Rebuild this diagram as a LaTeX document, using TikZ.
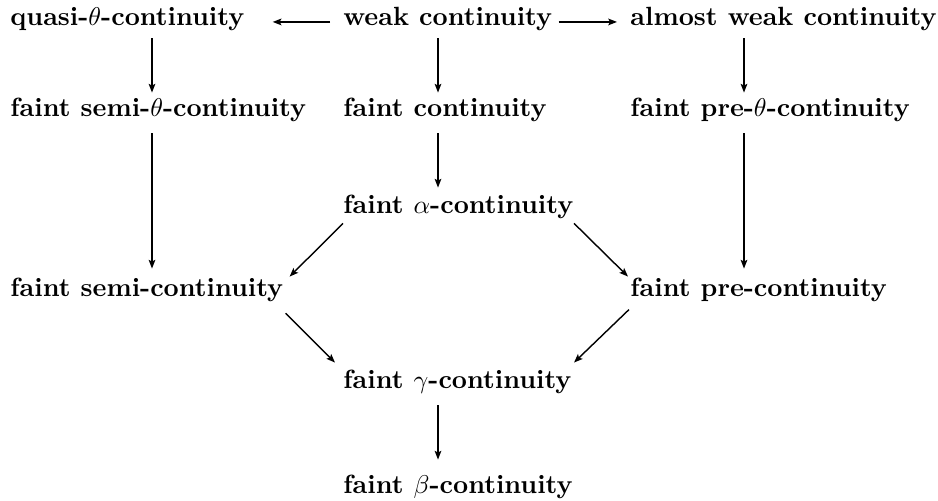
\documentclass[tikz,border=0pt]{standalone}
\usepackage{fontspec}
\usetikzlibrary{arrows.meta,calc}
\begin{document}
\begin{tikzpicture}[x=0.389pt,y=-0.389pt,
  lbl/.style={anchor=base west,font=\fontsize{10.25}{12}\selectfont\bfseries,text height=7pt,text depth=2.3pt,inner xsep=2.3pt,inner ysep=2.3pt},
  ar/.style={line width=0.55pt,-{Stealth[length=3.4pt,width=2.6pt,inset=0.7pt]}}]
\useasboundingbox (0,0) rectangle (938,501);
\coordinate (cL) at (152,0);
\coordinate (cM) at (438,0);
\coordinate (cR) at (744,0);
\node[lbl] (qt) at (4,26) {quasi-$\theta$-continuity};
\node[lbl] (wc) at (337,26) {weak continuity};
\node[lbl] (aw) at (624,26) {almost weak continuity};
\node[lbl] (st) at (4,117) {faint semi-$\theta$-continuity};
\node[lbl] (fc) at (337,117) {faint continuity};
\node[lbl] (pt) at (624,117) {faint pre-$\theta$-continuity};
\node[lbl] (fa) at (337,214) {faint $\alpha$-continuity};
\node[lbl] (fs) at (4,297) {faint semi-continuity};
\node[lbl] (fp) at (624,297) {faint pre-continuity};
\node[lbl] (fg) at (337,389) {faint $\gamma$-continuity};
\node[lbl] (fb) at (337,494) {faint $\beta$-continuity};
% horizontal
\draw[ar] ($(wc.west)+(-7,2)$) -- ($(qt.east|-wc.west)+(22,2)$);
\draw[ar] ($(wc.east)+(0,2)$) -- ($(aw.west)+(-7,2)$);
% verticals
\draw[ar] (qt.south -| cL) -- (st.north -| cL);
\draw[ar] (wc.south -| cM) -- (fc.north -| cM);
\draw[ar] (aw.south -| cR) -- (pt.north -| cR);
\draw[ar] ($(st.south -| cL)+(0,4)$) -- ($(fs.north -| cL)+(0,-4)$);
\draw[ar] ($(pt.south -| cR)+(0,4)$) -- ($(fp.north -| cR)+(0,-4)$);
\draw[ar] ($(fc.south -| cM)+(0,4)$) -- ($(fa.north -| cM)+(0,-2)$);
\draw[ar] ($(fg.south -| cM)+(0,4)$) -- ($(fb.north -| cM)+(0,-10)$);
% diagonals
\draw[ar] ($(fa.south west)+(6,-3)$) -- ($(fs.north east)+(0,4)$);
\draw[ar] ($(fa.south west)+(237,-3)$) -- ($(fp.north west)+(4,4)$);
\draw[ar] ($(fs.south east)+(-4,4)$) -- ($(fg.north west)+(-2,-2)$);
\draw[ar] ($(fp.north west)+(5,37)$) -- ($(fg.north west)+(237,-2)$);
\end{tikzpicture}
\end{document}
